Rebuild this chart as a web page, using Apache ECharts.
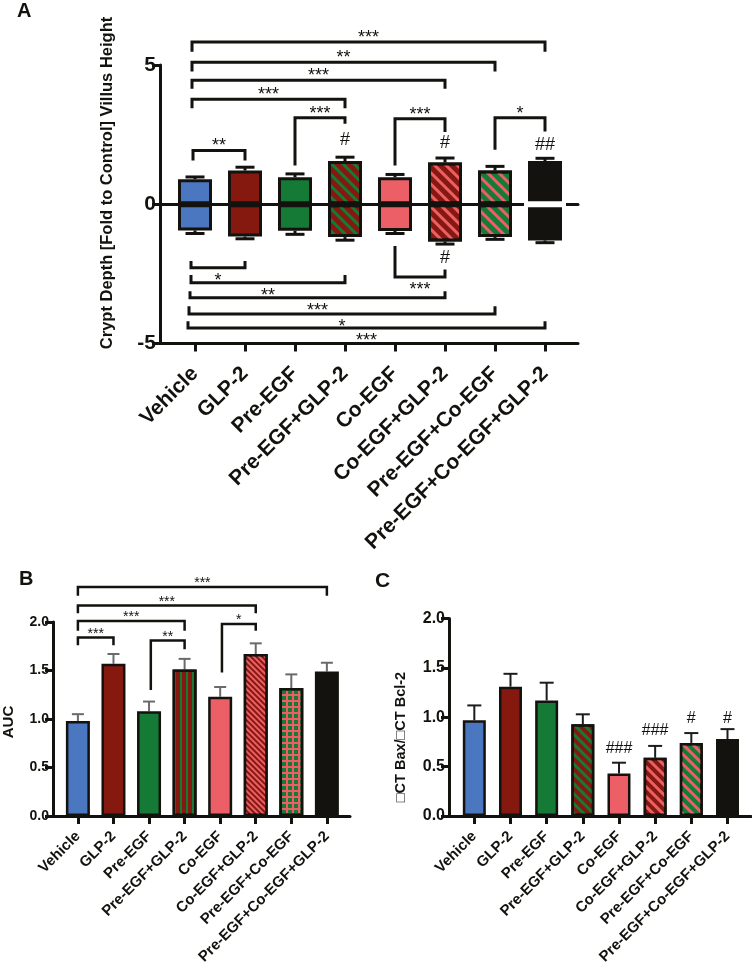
<!DOCTYPE html>
<html><head><meta charset="utf-8">
<script src="https://cdn.jsdelivr.net/npm/echarts@6/dist/echarts.min.js"></script>
<style>html,body{margin:0;padding:0;background:#fff}#c{width:752px;height:967px}</style>
</head><body><div id="c"></div>
<script>
// ---------------- DATA ----------------
const categories = ['Vehicle','GLP-2','Pre-EGF','Pre-EGF+GLP-2','Co-EGF','Co-EGF+GLP-2','Pre-EGF+Co-EGF','Pre-EGF+Co-EGF+GLP-2'];
// Panel A: villus height (up) and crypt depth (down), fold to control
const villusA    = [0.90, 1.21, 0.97, 1.55, 0.97, 1.50, 1.21, 1.55];
const villusErrA = [0.08, 0.12, 0.12, 0.14, 0.10, 0.16, 0.15, 0.10];
const cryptA     = [-0.94, -1.16, -0.95, -1.18, -0.96, -1.34, -1.18, -1.30];
const cryptErrA  = [0.11, 0.08, 0.13, 0.11, 0.09, 0.09, 0.08, 0.08];
const yTicksA = [-5, 0, 5];
// Panel B: AUC
const aucB    = [0.98, 1.57, 1.08, 1.51, 1.23, 1.67, 1.32, 1.49];
const aucErrB = [0.07, 0.10, 0.10, 0.11, 0.10, 0.11, 0.14, 0.09];
// Panel C: dCT Bax / dCT Bcl-2
const ratioC    = [0.97, 1.31, 1.17, 0.93, 0.43, 0.59, 0.74, 0.78];
const ratioErrC = [0.15, 0.13, 0.18, 0.10, 0.11, 0.12, 0.10, 0.10];
// significance brackets: [from, to, lineLevel, leftLegEnd, rightLegEnd, label]
const bracketsA = [
  [-0.06, 7, 5.83, 5.48, 5.48, '***'],
  [-0.06, 6, 5.10, 4.77, 4.77, '**'],
  [-0.06, 5, 4.45, 4.15, 4.15, '***'],
  [-0.06, 3, 3.77, 3.45, 3.45, '***'],
  [2, 3, 3.11, 1.39, 2.89, '***'],
  [-0.04, 1, 1.93, 1.57, 1.57, '**'],
  [4, 5, 3.07, 1.39, 2.59, '***'],
  [6, 7, 3.11, 1.96, 2.61, '*'],
  [-0.08, 1, -2.28, -2.04, -2.04, '*'],
  [-0.08, 3, -2.82, -2.54, -2.54, '**'],
  [-0.1, 5, -3.36, -3.12, -3.12, '***'],
  [-0.12, 6, -3.94, -3.66, -3.66, '*'],
  [-0.14, 7, -4.44, -4.20, -4.20, '***'],
  [4, 5, -2.61, -1.50, -2.34, '***']
];
const hashA = [[3, 2.29, '#'], [5, 2.19, '#'], [7, 2.14, '##'], [5, -1.94, '#']];
const zeroGapA = [7];
const bracketsB = [
  [0, 1, 1.84, 1.76, 1.76, '***'],
  [0, 3, 2.01, 1.91, 1.91, '***'],
  [0, 5, 2.17, 2.09, 2.09, '***'],
  [0, 7, 2.36, 2.27, 2.27, '***'],
  [2.05, 3, 1.81, 1.30, 1.72, '**'],
  [4.05, 5, 1.98, 1.48, 1.91, '*']
];
const hashC = [[4, 0.68, '###'], [5, 0.87, '###'], [6, 0.99, '#'], [7, 0.99, '#']];
const yTicksBC = [0, 0.5, 1.0, 1.5, 2.0];

// ---------------- STYLE ----------------
const FONT = '"Liberation Sans", Arial, Helvetica, sans-serif';
const BLUE = '#4a77bf', RED = '#85180f', GREEN = '#147a36', PINK = '#ec5f67', BLACK = '#13120e';
const fills = [BLUE, RED, GREEN, RED, PINK, RED, GREEN, BLACK];
const fillsB = [BLUE, RED, GREEN, RED, PINK, RED, PINK, BLACK];
function stripes(color, on, off) {
  return {symbol: 'rect', symbolSize: 1, color: color, dashArrayX: [1, 0], dashArrayY: [on, off], rotation: Math.PI / 4};
}
const decalA = [null, null, null, stripes(GREEN, 3, 4.5), null, stripes(PINK, 3, 4.5), stripes(PINK, 3, 4.5), null];
const decalB = [null, null, null,
  {symbol: 'rect', symbolSize: 1, color: GREEN, dashArrayX: [1.3, 3.2], dashArrayY: [1, 0]},
  null, stripes(PINK, 1.2, 1.8),
  {symbol: 'rect', symbolSize: 1, color: GREEN, dashArrayX: [3.2, 1.3], dashArrayY: [3.2, 1.3]}, null];
const decalC = [null, null, null, stripes(GREEN, 2.5, 3.5), null, stripes(PINK, 2.5, 3.5), stripes(PINK, 2.5, 3.5), null];

function barItems(vals, fillArr, decals, bw) {
  return vals.map((v, i) => {
    const st = {color: fillArr[i], borderColor: BLACK, borderWidth: bw};
    if (decals[i]) st.decal = decals[i];
    return {value: [i, v], itemStyle: st};
  });
}
function errRender(capW, lw, color) {
  return function (params, api) {
    const x = api.value(0), v = api.value(1), e = api.value(2);
    const p0 = api.coord([x, v]), p1 = api.coord([x, v + e]);
    return {type: 'group', children: [
      {type: 'line', shape: {x1: p0[0], y1: p0[1], x2: p1[0], y2: p1[1]}, style: {stroke: color, lineWidth: lw}},
      {type: 'line', shape: {x1: p1[0] - capW / 2, y1: p1[1], x2: p1[0] + capW / 2, y2: p1[1]}, style: {stroke: color, lineWidth: lw}}
    ]};
  };
}
function bracketRender(list, lw, fontSize, gapUp, gapDown) {
  return function (params, api) {
    const b = list[params.dataIndex];
    const pa = api.coord([b[0], b[2]]), pb = api.coord([b[1], b[2]]);
    const la = api.coord([b[0], b[3]]), lb = api.coord([b[1], b[4]]);
    const up = b[3] < b[2];
    const ty = up ? pa[1] - gapUp : pa[1] + gapDown;
    return {type: 'group', children: [
      {type: 'polyline', shape: {points: [la, pa, pb, lb]}, style: {stroke: BLACK, lineWidth: lw, fill: null, lineJoin: 'miter'}},
      {type: 'text', x: (pa[0] + pb[0]) / 2, y: ty, style: {text: b[5], fill: BLACK, font: 'normal ' + fontSize + 'px ' + FONT, align: 'center', verticalAlign: 'middle'}}
    ]};
  };
}
function hashRender(list, fontSize) {
  return function (params, api) {
    const h = list[params.dataIndex];
    const p = api.coord([h[0], h[1]]);
    return {type: 'text', x: p[0], y: p[1], style: {text: h[2], fill: BLACK, font: 'normal ' + fontSize + 'px ' + FONT, align: 'center', verticalAlign: 'middle'}};
  };
}

const tickIdx = categories.map((c, i) => i);
function catAxis(gridIndex, fontSize, margin, extra) {
  return Object.assign({
    type: 'value', gridIndex: gridIndex, min: -0.7, max: 7.66,
    axisLine: {onZero: false, lineStyle: {color: BLACK, width: 3}},
    axisTick: {show: true, customValues: tickIdx, length: 8, lineStyle: {color: BLACK, width: 3}},
    axisLabel: {customValues: tickIdx, formatter: v => categories[Math.round(v)], rotate: 45, margin: margin,
      fontFamily: FONT, fontWeight: 'bold', fontSize: fontSize, color: BLACK},
    splitLine: {show: false}
  }, extra || {});
}
function valAxis(gridIndex, min, max, interval, fontSize, fmt) {
  return {
    type: 'value', gridIndex: gridIndex, min: min, max: max, interval: interval,
    axisLine: {show: true, onZero: false, lineStyle: {color: BLACK, width: 3}},
    axisTick: {show: true, length: 8, lineStyle: {color: BLACK, width: 3}},
    axisLabel: {fontFamily: FONT, fontWeight: 'bold', fontSize: fontSize, color: BLACK, margin: 4, formatter: fmt},
    splitLine: {show: false}
  };
}

const option = {
  backgroundColor: '#ffffff',
  animation: false,
  grid: [
    {left: 160, top: 65, width: 418, height: 278.5},
    {left: 53, top: 622, width: 297, height: 198},
    {left: 449, top: 618.5, width: 302, height: 200.5}
  ],
  xAxis: [
    catAxis(0, 21, 27),
    {type: 'value', gridIndex: 0, min: -0.7, max: 7.66, position: 'top',
      axisLine: {onZero: true, lineStyle: {color: BLACK, width: 3}},
      axisTick: {show: false}, axisLabel: {show: false}, splitLine: {show: false}},
    catAxis(1, 15, 18, {max: 7.65}),
    catAxis(2, 15, 18, {max: 7.65})
  ],
  yAxis: [
    valAxis(0, -5, 5, 5, 21, v => String(v)),
    valAxis(1, 0, 2, 0.5, 14, v => v.toFixed(1)),
    valAxis(2, 0, 2, 0.5, 16, v => v.toFixed(1))
  ],
  graphic: [
    {type: 'text', x: 17, y: 1, style: {text: 'A', font: 'bold 20px ' + FONT, fill: BLACK}},
    {type: 'text', x: 19, y: 569, style: {text: 'B', font: 'bold 20px ' + FONT, fill: BLACK}},
    {type: 'text', x: 375, y: 571, style: {text: 'C', font: 'bold 21px ' + FONT, fill: BLACK}},
    {type: 'text', x: 107, y: 183, rotation: Math.PI / 2,
      style: {text: 'Crypt Depth [Fold to Control] Villus Height', font: 'bold 16.5px ' + FONT, fill: BLACK, align: 'center', verticalAlign: 'middle'}},
    {type: 'text', x: 9, y: 722, rotation: Math.PI / 2,
      style: {text: 'AUC', font: 'bold 15px ' + FONT, fill: BLACK, align: 'center', verticalAlign: 'middle'}},
    {type: 'text', x: 401, y: 737, rotation: Math.PI / 2,
      style: {text: '\u25A1CT Bax/\u25A1CT Bcl-2', font: 'bold 14.5px ' + FONT, fill: BLACK, align: 'center', verticalAlign: 'middle'}}
  ],
  series: [
    // ---- Panel A ----
    {type: 'bar', xAxisIndex: 0, yAxisIndex: 0, stack: 'A', barWidth: 34, z: 2,
      data: barItems(villusA, fills, decalA, 3)},
    {type: 'bar', xAxisIndex: 0, yAxisIndex: 0, stack: 'A', barWidth: 34, z: 2,
      data: barItems(cryptA, fills, decalA, 3)},
    {type: 'custom', xAxisIndex: 0, yAxisIndex: 0, z: 4, encode: {x: 0, y: 1},
      renderItem: function (params, api) {
        const p = api.coord([api.value(0), 0]);
        return {type: 'rect', shape: {x: p[0] - 21, y: p[1] - 3, width: 42, height: 6}, style: {fill: '#ffffff'}};
      },
      data: zeroGapA.map(i => [i, 0])},
    {type: 'custom', xAxisIndex: 0, yAxisIndex: 0, z: 3, encode: {x: 0, y: 1},
      renderItem: errRender(19, 3, BLACK),
      data: villusA.map((v, i) => [i, v, villusErrA[i]]).concat(cryptA.map((v, i) => [i, v, -cryptErrA[i]]))},
    {type: 'custom', xAxisIndex: 0, yAxisIndex: 0, z: 5, encode: {x: 0, y: 2},
      renderItem: bracketRender(bracketsA, 3, 18, 4, 13),
      data: bracketsA.map(b => [b[0], b[1], b[2], b[3], b[4]])},
    {type: 'custom', xAxisIndex: 0, yAxisIndex: 0, z: 5, encode: {x: 0, y: 1},
      renderItem: hashRender(hashA, 18),
      data: hashA.map(h => [h[0], h[1]])},
    // ---- Panel B ----
    {type: 'bar', xAxisIndex: 2, yAxisIndex: 1, barWidth: 24, z: 2,
      data: barItems(aucB, fillsB, decalB, 2.5)},
    {type: 'custom', xAxisIndex: 2, yAxisIndex: 1, z: 1, encode: {x: 0, y: 1},
      renderItem: errRender(12, 2, '#6a6a6a'),
      data: aucB.map((v, i) => [i, v, aucErrB[i]])},
    {type: 'custom', xAxisIndex: 2, yAxisIndex: 1, z: 5, encode: {x: 0, y: 2},
      renderItem: bracketRender(bracketsB, 2.5, 14, 3.6, 10),
      data: bracketsB.map(b => [b[0], b[1], b[2], b[3], b[4]])},
    // ---- Panel C ----
    {type: 'bar', xAxisIndex: 3, yAxisIndex: 2, barWidth: 23, z: 2,
      data: barItems(ratioC, fills, decalC, 2.5)},
    {type: 'custom', xAxisIndex: 3, yAxisIndex: 2, z: 1, encode: {x: 0, y: 1},
      renderItem: errRender(14, 2, '#1c1c1c'),
      data: ratioC.map((v, i) => [i, v, ratioErrC[i]])},
    {type: 'custom', xAxisIndex: 3, yAxisIndex: 2, z: 5, encode: {x: 0, y: 1},
      renderItem: hashRender(hashC, 16),
      data: hashC.map(h => [h[0], h[1]])}
  ]
};
const chart = echarts.init(document.getElementById('c'), null, {renderer: 'canvas', width: 752, height: 967});
chart.setOption(option);
</script>
</body></html>
